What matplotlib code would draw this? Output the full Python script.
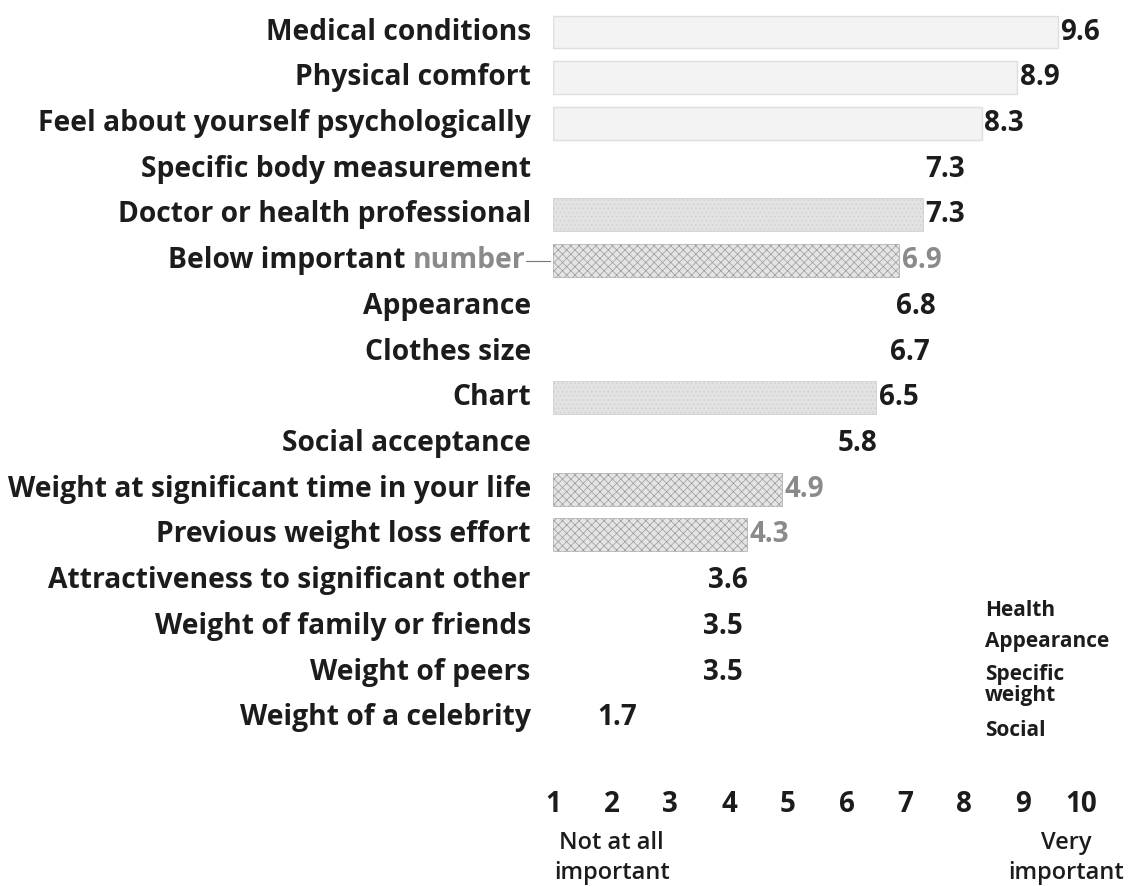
import matplotlib
matplotlib.use('Agg')
import matplotlib.pyplot as plt

plt.rcParams['font.family'] = ['Open Sans', 'DejaVu Sans']
plt.rcParams['hatch.linewidth'] = 0.5

factors = ['Medical conditions', 'Physical comfort', 'Feel about yourself psychologically',
           'Specific body measurement', 'Doctor or health professional', 'Below important number',
           'Appearance', 'Clothes size', 'Chart', 'Social acceptance',
           'Weight at significant time in your life', 'Previous weight loss effort',
           'Attractiveness to significant other', 'Weight of family or friends',
           'Weight of peers', 'Weight of a celebrity']
scores = [9.6, 8.9, 8.3, 7.3, 7.3, 6.9, 6.8, 6.7, 6.5, 5.8, 4.9, 4.3, 3.6, 3.5, 3.5, 1.7]
# bar look, as printed in the scan
looks = ['health', 'health', 'health', 'plain', 'dotted', 'cross', 'plain', 'plain',
         'dotted', 'plain', 'cross', 'cross', 'plain', 'plain', 'plain', 'plain']
legend_labels = ['Health', 'Appearance', 'Specific\nweight', 'Social']
scale_ticks = list(range(1, 11))

dark = '#1c1c1c'
grey_txt = '#8a8a8a'
style = {
    'health': dict(color='#f3f3f3', edgecolor='#dedede', linewidth=1.0, hatch=None),
    'plain': dict(color='white', edgecolor='white', linewidth=0, hatch=None),
    'dotted': dict(color='#e2e2e2', edgecolor='#cfcfcf', linewidth=0.6, hatch='....'),
    'cross': dict(color='#e4e4e4', edgecolor='#9a9a9a', linewidth=0.4, hatch='xxxx'),
}

fig = plt.figure(figsize=(11.42, 8.86), dpi=100)
ax = fig.add_axes([553 / 1142, 1 - 780 / 886, 1 - 553 / 1142, 780 / 886])

for i, (val, lk) in enumerate(zip(scores, looks)):
    st = style[lk]
    ax.barh(i, val - 1, left=1, height=0.72, color=st['color'],
            edgecolor=st['edgecolor'], linewidth=st['linewidth'], hatch=st['hatch'])
    col = grey_txt if lk == 'cross' else dark
    ax.annotate(f'{val:.1f}', xy=(val, i), xytext=(2, 0), textcoords='offset points',
                ha='left', va='center', fontsize=20, fontweight='bold', color=col)

ax.set_xlim(1, 1 + 589 / 58.7)
ax.set_ylim(16.36, -0.70)
ax.set_yticks([])
ax.set_xticks(scale_ticks)
ax.set_xticklabels([str(t) for t in scale_ticks], fontsize=20, fontweight='bold', color=dark)
ax.tick_params(axis='x', length=0, pad=7)
for s in ax.spines.values():
    s.set_visible(False)

# category labels, right aligned against the bars
ytrans = ax.get_yaxis_transform()
for i, name in enumerate(factors):
    if name == 'Below important number':
        t = ax.annotate('number', xy=(0, i), xycoords=ytrans, xytext=(-20, 0),
                        textcoords='offset points', ha='right', va='center',
                        fontsize=20.3, fontweight='bold', color=grey_txt)
        ax.annotate('Below important ', xy=(0, 0), xycoords=t, ha='right', va='bottom',
                    fontsize=20.3, fontweight='bold', color=dark)
        ax.plot([-0.045, -0.005], [i, i], transform=ytrans, color='#777777',
                linewidth=0.8, clip_on=False)
    else:
        ax.annotate(name, xy=(0, i), xycoords=ytrans, xytext=(-16, 0),
                    textcoords='offset points', ha='right', va='center',
                    fontsize=20.3, fontweight='bold', color=dark)

# legend entries, text only
leg_y = [610, 642, 685, 730]
for lab, yp in zip(legend_labels, leg_y):
    fig.text(985 / 1142, 1 - yp / 886, lab, ha='left', va='center', fontsize=15,
             fontweight='bold', color=dark, linespacing=1.0)

xtrans = ax.get_xaxis_transform()
ax.text(2, -(858 - 780) / 780, 'Not at all\nimportant', transform=xtrans, ha='center',
        va='center', fontsize=17, fontweight='semibold', color=dark, linespacing=1.35)
ax.text(9.75, -(858 - 780) / 780, 'Very\nimportant', transform=xtrans, ha='center',
        va='center', fontsize=17, fontweight='semibold', color=dark, linespacing=1.35)

fig.savefig('out.png', dpi=100)
